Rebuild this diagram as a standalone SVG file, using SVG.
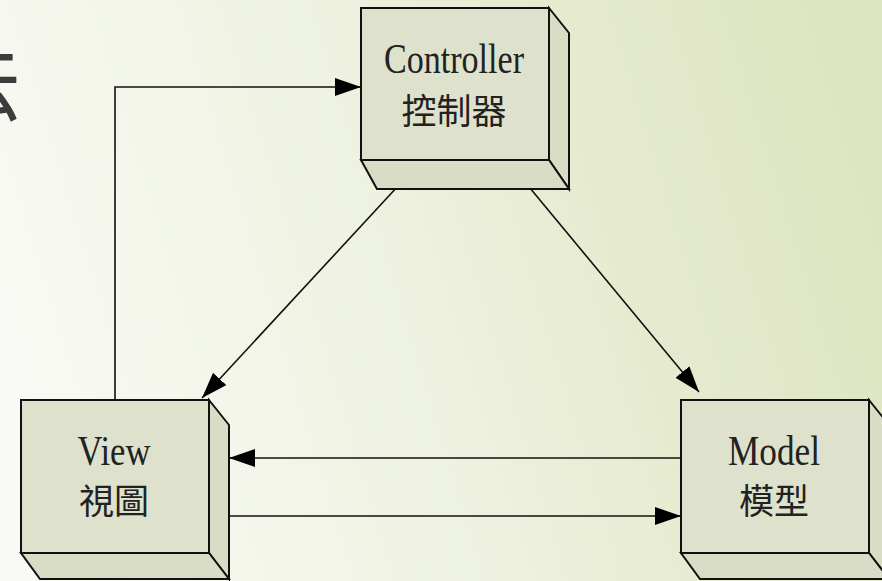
<svg xmlns="http://www.w3.org/2000/svg" width="882" height="581" viewBox="0 0 882 581">
  <defs>
    <linearGradient id="bg" x1="0" y1="0.6" x2="1" y2="0.4">
      <stop offset="0" stop-color="#f9faf5"/>
      <stop offset="0.45" stop-color="#eef2e0"/>
      <stop offset="0.7" stop-color="#e6ebd0"/>
      <stop offset="1" stop-color="#dde5c1"/>
    </linearGradient>
    <marker id="arrow" markerUnits="userSpaceOnUse" markerWidth="26" markerHeight="18" refX="26" refY="9" orient="auto">
      <path d="M0,0 L26,9 L0,18 z" fill="#000"/>
    </marker>
    <style>
      .face { fill: #dee1cb; stroke: #111; stroke-width: 2; stroke-linejoin: miter; }
      .side { fill: #d9ddc5; stroke: #111; stroke-width: 2; stroke-linejoin: miter; }
      .lat { font-family: "Liberation Serif", "Times New Roman", serif; font-size: 42px; fill: #222; text-anchor: middle; }
      .cjk { font-family: "Noto Sans CJK TC", "Noto Sans CJK SC", sans-serif; font-size: 35px; fill: #222; text-anchor: middle; }
      .link { fill: none; stroke: #111; stroke-width: 1.6; marker-end: url(#arrow); }
    </style>
  </defs>

  <rect x="0" y="0" width="882" height="581" fill="url(#bg)"/>

  <!-- title fragment at the left edge -->
  <text x="22" y="114" font-family="Noto Sans CJK TC, Noto Sans CJK SC, sans-serif" font-size="90" fill="#3c3c3c" text-anchor="end">法</text>

  <!-- connectors -->
  <g id="connectors">
    <path class="link" d="M115,400 L115,87 L361,87"/>
    <path class="link" d="M411,172 L202,398"/>
    <path class="link" d="M520,176 L699,392"/>
    <path class="link" d="M681,458 L229,458"/>
    <path class="link" d="M229,516 L681,516"/>
  </g>

  <!-- Controller -->
  <g id="controller">
    <polygon class="side" points="549,8 569,33 569,189 549,160"/>
    <polygon class="side" points="361,160 549,160 569,189 377,189"/>
    <rect class="face" x="361" y="8" width="188" height="152"/>
    <text class="lat" x="454" y="73" textLength="140" lengthAdjust="spacingAndGlyphs">Controller</text>
    <text class="cjk" x="454" y="124">控制器</text>
  </g>

  <!-- View -->
  <g id="view">
    <polygon class="side" points="209,400 229,425 229,579 209,553"/>
    <polygon class="side" points="21,553 209,553 229,579 40,579"/>
    <rect class="face" x="21" y="400" width="188" height="153"/>
    <text class="lat" x="114" y="465" textLength="73" lengthAdjust="spacingAndGlyphs">View</text>
    <text class="cjk" x="114" y="514">視圖</text>
  </g>

  <!-- Model -->
  <g id="model">
    <polygon class="side" points="869,400 889,425 889,579 869,553"/>
    <polygon class="side" points="681,553 869,553 889,579 700,579"/>
    <rect class="face" x="681" y="400" width="188" height="153"/>
    <text class="lat" x="774" y="465" textLength="92" lengthAdjust="spacingAndGlyphs">Model</text>
    <text class="cjk" x="774" y="514">模型</text>
  </g>
</svg>
